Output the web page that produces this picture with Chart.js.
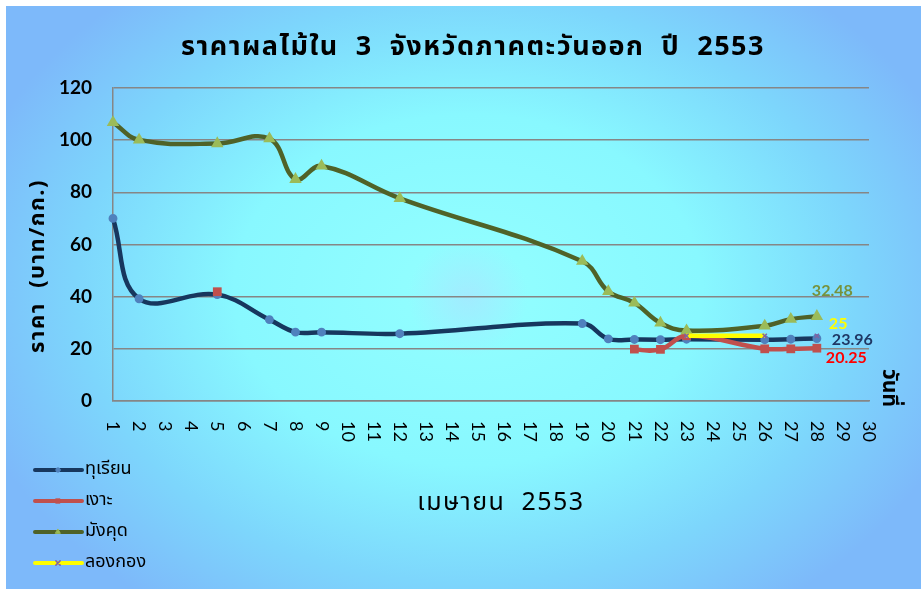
<!DOCTYPE html>
<html>
<head>
<meta charset="utf-8">
<title>ราคาผลไม้ใน 3 จังหวัดภาคตะวันออก ปี 2553</title>
<script src="https://cdn.jsdelivr.net/npm/chart.js@4.4.0/dist/chart.umd.min.js"></script>
<style>
  html, body { margin: 0; padding: 0; background: #fff; }
  #wrap { width: 921px; height: 589px; }
</style>
</head>
<body>
<div id="wrap"><canvas id="priceChart" width="921" height="589"></canvas></div>
<script>
const chartTitle = "ราคาผลไม้ใน  3  จังหวัดภาคตะวันออก  ปี  2553";
const yTitle = "ราคา  (บาท/กก.)";
const xTitle = "เมษายน  2553";
const xUnit = "วันที่";

const days = ["1", "2", "3", "4", "5", "6", "7", "8", "9", "10",
  "11", "12", "13", "14", "15", "16", "17", "18", "19", "20",
  "21", "22", "23", "24", "25", "26", "27", "28", "29", "30"];

// price per day (baht/kg), null = no record that day
const durian = [70, 39.2, null, null, 40.8, null, 31.2, 26.4, 26.4, null,
  null, 25.8, null, null, null, null, null, null, 29.7, 23.8,
  23.6, 23.5, 23.7, null, null, 23.5, 23.7, 23.96, null, null];
const rambutan = [null, null, null, null, 41.9, null, null, null, null, null,
  null, null, null, null, null, null, null, null, null, null,
  19.9, 19.8, 25, null, null, 20, 20, 20.25, null, null];
const mangosteen = [106.8, 100.1, null, null, 98.7, null, 100.6, 85, 90.1, null,
  null, 77.7, null, null, null, null, null, null, 53.6, 42,
  37.6, 29.9, 27, null, null, 28.8, 31.4, 32.48, null, null];
const longkong = [null, null, null, null, null, null, null, null, null, null,
  null, null, null, null, null, null, null, null, null, null,
  null, null, 25, null, null, 25, null, 25, null, null];

const yTicks = [0, 20, 40, 60, 80, 100, 120];

const thaiFont = "'Noto Sans Thai', 'Noto Sans', 'DejaVu Sans', sans-serif";
const numFont = "Lato, 'Open Sans', sans-serif";

// gaps the original does not join: index of the point that ends the hidden segment
function hideGap(endIdx) {
  return {
    borderColor: (c) => (endIdx.includes(c.p1DataIndex) ? "rgba(0,0,0,0)" : undefined),
  };
}

const backdrop = {
  id: "backdrop",
  beforeDraw(chart) {
    const { ctx, width, height } = chart;
    ctx.save();
    ctx.fillStyle = "#ffffff";
    ctx.fillRect(0, 0, width, height);
    ctx.translate(468, 290);
    ctx.scale(1, 0.75);
    const g = ctx.createRadialGradient(0, 0, 0, 0, 0, 520);
    g.addColorStop(0, "#93ffff");
    g.addColorStop(0.45, "#88f8ff");
    g.addColorStop(0.75, "#7dd6fc");
    g.addColorStop(1, "#7db9fa");
    ctx.fillStyle = g;
    ctx.fillRect(6 - 468, (6 - 290) / 0.75, 915, 583 / 0.75);
    ctx.restore();

    // faint glow in the middle of the plot
    ctx.save();
    const glow = ctx.createRadialGradient(468, 297, 0, 468, 297, 60);
    glow.addColorStop(0, "rgba(190,200,255,0.35)");
    glow.addColorStop(1, "rgba(190,200,255,0)");
    ctx.fillStyle = glow;
    ctx.fillRect(400, 230, 140, 140);
    ctx.restore();
  },
};

const decorations = {
  id: "decorations",
  afterDraw(chart) {
    const { ctx } = chart;
    const x = chart.scales.x;

    ctx.save();
    ctx.fillStyle = "#000";

    // title
    ctx.font = "bold 27px " + thaiFont;
    ctx.letterSpacing = "1.5px";
    ctx.textAlign = "center";
    ctx.textBaseline = "middle";
    ctx.fillText(chartTitle, 473, 50);

    // x axis title
    ctx.font = "25px " + thaiFont;
    ctx.letterSpacing = "1.5px";
    ctx.fillText(xTitle, 501, 505);

    // y axis title
    ctx.save();
    ctx.translate(40, 266);
    ctx.rotate(-Math.PI / 2);
    ctx.font = "bold 22px " + thaiFont;
    ctx.letterSpacing = "1.5px";
    ctx.fillText(yTitle, 0, 0);
    ctx.restore();

    // "วันที่" on the right
    ctx.save();
    ctx.translate(887, 388);
    ctx.rotate(Math.PI / 2);
    ctx.font = "bold 21px " + thaiFont;
    ctx.letterSpacing = "0px";
    ctx.fillText(xUnit, 0, 0);
    ctx.restore();

    ctx.letterSpacing = "0px";

    // x tick labels, turned clockwise
    ctx.font = "18px " + numFont;
    ctx.textAlign = "left";
    days.forEach((d, i) => {
      ctx.save();
      ctx.translate(x.getPixelForTick(i), 421);
      ctx.rotate(Math.PI / 2);
      ctx.fillText(d, 0, 0);
      ctx.restore();
    });

    // value labels on the last day
    chart.data.datasets.forEach((ds, di) => {
      const meta = chart.getDatasetMeta(di);
      const idx = ds.data.length - 1 - [...ds.data].reverse().findIndex((v) => v !== null);
      const pt = meta.data[idx];
      ctx.font = "bold 16px " + numFont;
      ctx.fillStyle = ds.labelColor;
      ctx.textAlign = "left";
      ctx.textBaseline = "middle";
      ctx.fillText(String(ds.data[idx]), pt.x + ds.labelShift[0], pt.y + ds.labelShift[1]);
    });

    // legend, stacked at the bottom left
    chart.data.datasets.forEach((ds, di) => {
      const ly = 470 + di * 31;
      ctx.strokeStyle = ds.borderColor;
      ctx.lineWidth = 4;
      ctx.lineCap = "round";
      ctx.beginPath();
      ctx.moveTo(35, ly);
      ctx.lineTo(82, ly);
      ctx.stroke();
      ctx.fillStyle = ds.pointBackgroundColor;
      ctx.strokeStyle = ds.pointBorderColor;
      ctx.lineWidth = ds.pointBorderWidth || 1;
      Chart.helpers.drawPoint(ctx, {
        pointStyle: ds.pointStyle,
        radius: ds.pointRadius,
        borderWidth: ds.pointBorderWidth || 1,
        rotation: 0,
      }, 58, ly);
      ctx.fillStyle = "#000";
      ctx.font = "18px " + thaiFont;
      ctx.textAlign = "left";
      ctx.textBaseline = "middle";
      ctx.fillText(ds.label, 85, ly);
    });
    ctx.restore();
  },
};

const ctx = document.getElementById("priceChart").getContext("2d");

new Chart(ctx, {
  type: "line",
  data: {
    labels: days,
    datasets: [
      {
        label: "ทุเรียน",
        data: durian,
        order: 4,
        borderColor: "#17375e",
        borderWidth: 4.5,
        pointStyle: "circle",
        pointRadius: 2.2,
        pointBackgroundColor: "#4f81bd",
        pointBorderColor: "#4f81bd",
        labelColor: "#1f3864",
        labelShift: [15, 1],
      },
      {
        label: "เงาะ",
        data: rambutan,
        order: 3,
        borderColor: "#c0504d",
        borderWidth: 4.5,
        pointStyle: "rect",
        pointRadius: 3,
        pointBackgroundColor: "#c0504d",
        pointBorderColor: "#c0504d",
        segment: hideGap([20]),
        labelColor: "#ff0000",
        labelShift: [9, 10],
      },
      {
        label: "มังคุด",
        data: mangosteen,
        order: 2,
        borderColor: "#4f6228",
        borderWidth: 4.5,
        pointStyle: "triangle",
        pointRadius: 2.7,
        pointBackgroundColor: "#9bbb59",
        pointBorderColor: "#9bbb59",
        labelColor: "#76923c",
        labelShift: [-5, -25],
      },
      {
        label: "ลองกอง",
        data: longkong,
        order: 1,
        borderColor: "#ffff00",
        borderWidth: 4.5,
        pointStyle: "crossRot",
        pointRadius: 3,
        pointBorderWidth: 1.5,
        pointBackgroundColor: "#8064a2",
        pointBorderColor: "#8064a2",
        segment: hideGap([27]),
        labelColor: "#ffff00",
        labelShift: [12, -12],
      },
    ],
  },
  options: {
    responsive: false,
    animation: false,
    spanGaps: true,
    layout: {
      autoPadding: false,
      padding: { left: 13, right: 52, top: 88, bottom: 148 },
    },
    elements: {
      line: { tension: 0.4 },
    },
    datasets: { line: { clip: false } },
    plugins: {
      legend: { display: false },
      title: { display: false },
      tooltip: { enabled: false },
    },
    scales: {
      x: {
        offset: false,
        grid: { display: false },
        border: { display: true, color: "#868686", width: 1.5 },
        ticks: { display: false },
        afterFit: (s) => { s.height = 40; },
      },
      y: {
        min: 0,
        max: 120,
        afterBuildTicks: (s) => { s.ticks = yTicks.map((v) => ({ value: v })); },
        grid: { color: "#868686", lineWidth: 1.5, drawTicks: false },
        border: { display: true, color: "#868686", width: 1.5 },
        ticks: {
          color: "#000",
          padding: 21,
          font: { family: numFont, size: 19, weight: "bold" },
        },
        afterFit: (s) => { s.width = 100; },
      },
    },
  },
  plugins: [backdrop, decorations],
});
</script>
</body>
</html>
